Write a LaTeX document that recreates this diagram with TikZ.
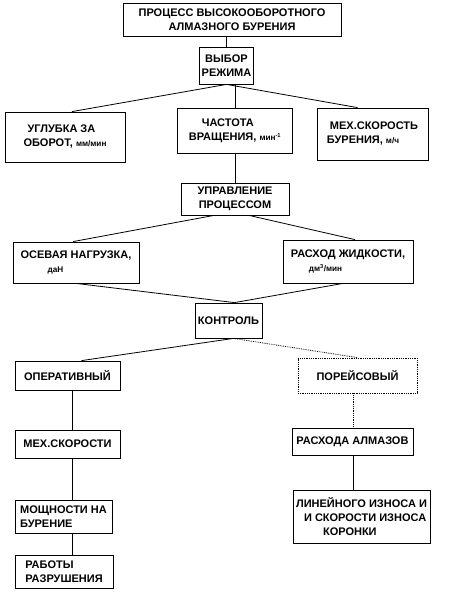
\documentclass[tikz,border=0pt]{standalone}
\usepackage{fontspec}
\setmainfont{Liberation Sans}
\usetikzlibrary{calc}
\newcommand{\un}[1]{{\fontsize{8.2}{9}\selectfont #1}}
\tikzset{blk/.style={draw,line width=0.8pt,inner sep=2pt,align=center,font=\fontsize{11}{14}\selectfont\bfseries},
  cn/.style={line width=0.8pt}}

\begin{document}
\begin{tikzpicture}[x=1pt,y=-1pt]
\useasboundingbox (0,0) rectangle (449,600);
\node[blk,minimum width=218pt,minimum height=33pt] (proc) at (232,19.5) {ПРОЦЕСС ВЫСОКООБОРОТНОГО\\АЛМАЗНОГО БУРЕНИЯ};
\node[blk,minimum width=53pt,minimum height=37pt] (vyb) at (226.5,65.5) {ВЫБОР\\РЕЖИМА};
\node[blk,minimum width=120pt,minimum height=50pt,align=left] (ugl) at (65,137) {\hspace*{4pt}УГЛУБКА ЗА\\ОБОРОТ, \un{мм/мин}};
\node[blk,minimum width=115pt,minimum height=45pt,align=left] (chast) at (235,130.5) {\hspace*{13pt}ЧАСТОТА\\ВРАЩЕНИЯ, \un{мин\textsuperscript{-1}}};
\node[blk,minimum width=111pt,minimum height=52pt,align=left] (mex) at (372.5,134) {\hspace*{3pt}МЕХ.СКОРОСТЬ\\БУРЕНИЯ, \un{м/ч}};
\node[blk,minimum width=108pt,minimum height=32pt] (upr) at (235,199) {УПРАВЛЕНИЕ\\ПРОЦЕССОМ};
\node[blk,minimum width=126pt,minimum height=41pt,align=left] (osev) at (76,262.5) {ОСЕВАЯ НАГРУЗКА,\\\hspace*{27pt}\un{даН}};
\node[blk,minimum width=130pt,minimum height=43pt,align=left] (rash) at (348,261.5) {РАСХОД ЖИДКОСТИ,\\\hspace*{18pt}\un{дм\textsuperscript{3}/мин}};
\node[blk,minimum width=67pt,minimum height=35pt] (kontr) at (228.5,320.5) {КОНТРОЛЬ};
\node[blk,minimum width=105pt,minimum height=29pt] (oper) at (67.5,375.5) {ОПЕРАТИВНЫЙ};
\node[blk,densely dotted,minimum width=119pt,minimum height=35pt] (porei) at (357.5,375.5) {ПОРЕЙСОВЫЙ};
\node[blk,minimum width=105pt,minimum height=28pt] (mexsk) at (67.5,444) {МЕХ.СКОРОСТИ};
\node[blk,minimum width=121pt,minimum height=27pt] (almaz) at (352.5,441.5) {РАСХОДА АЛМАЗОВ};
\node[blk,minimum width=97pt,minimum height=33pt,align=left] (moshch) at (63.5,516.5) {МОЩНОСТИ НА\\БУРЕНИЕ};
\node[blk,minimum width=98pt,minimum height=33pt,align=left] (rabot) at (64,571.5) {РАБОТЫ\\РАЗРУШЕНИЯ};
\node[blk,minimum width=137pt,minimum height=53pt,align=left] (lin) at (361.5,516.5) {ЛИНЕЙНОГО ИЗНОСА И\\\hspace*{8pt}И СКОРОСТИ ИЗНОСА\\\hspace*{27pt}КОРОНКИ};
\coordinate (lx) at (72,0);
\coordinate (rx) at (353,0);
\coordinate (kT) at ($(kontr.north)+(6,0)$);
\coordinate (kB) at ($(kontr.south)+(5,0)$);
\draw[cn] (proc.south -| vyb.north) -- (vyb.north);
\draw[cn] (vyb.south) -- ($(ugl.north)+(7,0)$);
\draw[cn] (vyb.south) -- ($(mex.north)+(-15,0)$);
\draw[cn] (chast.north) -- (chast.north |- vyb.south);
\draw[cn] (chast.south) -- (upr.north);
\draw[cn] ($(upr.south)+(-21,0)$) -- ($(osev.north)+(-3,0)$);
\draw[cn] ($(upr.south)+(14,0)$) -- ($(rash.north)+(7,0)$);
\draw[cn] (osev.south) -- (kT);
\draw[cn] ($(rash.south)+(-5,0)$) -- (kT);
\draw[cn] (kB) -- ($(oper.north)+(14,0)$);
\draw[cn,densely dotted] (kB) -- (porei.north);
\draw[cn] (oper.south -| lx) -- (mexsk.north -| lx);
\draw[cn] (mexsk.south -| lx) -- (moshch.north -| lx);
\draw[cn] (moshch.south -| lx) -- (rabot.north -| lx);
\draw[cn,densely dotted] (porei.south -| rx) -- (almaz.north -| rx);
\draw[cn] (almaz.south -| rx) -- (lin.north -| rx);
\end{tikzpicture}
\end{document}
